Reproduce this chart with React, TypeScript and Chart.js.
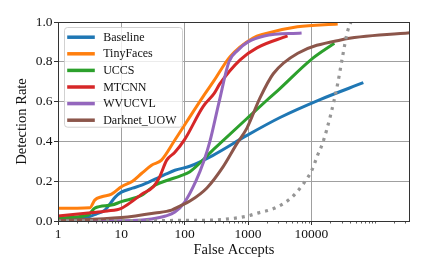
import React, { useEffect, useRef } from "react";
import { Chart, registerables } from "chart.js";

Chart.register(...registerables);

// ---------- data ----------
const seriesLabels = ["Baseline", "TinyFaces", "UCCS", "MTCNN", "WVUCVL", "Darknet_UOW"];
const seriesColors = ["#1f77b4", "#ff7f0e", "#2ca02c", "#d62728", "#9467bd", "#8c564b"];

const baselineX = [1, 2, 3, 4, 5.5, 8, 10, 15, 21, 34, 50, 70, 120, 280, 960, 3200, 13700, 66000];
const baselineY = [0.01, 0.015, 0.02, 0.035, 0.055, 0.12, 0.145, 0.165, 0.18, 0.21, 0.235, 0.255, 0.275, 0.33, 0.43, 0.52, 0.61, 0.695];

const tinyFacesX = [1, 3.2, 3.8, 4.9, 7, 10, 15, 21, 30, 43, 70, 108, 195, 290, 520, 1200, 1800, 6000, 26000];
const tinyFacesY = [0.064, 0.067, 0.105, 0.122, 0.135, 0.172, 0.2, 0.24, 0.28, 0.306, 0.407, 0.5, 0.625, 0.705, 0.826, 0.92, 0.94, 0.976, 0.99];

const uccsX = [1, 3, 3.8, 7, 10, 21, 34, 55, 84, 121, 280, 960, 2000, 3000, 9800, 23000];
const uccsY = [0.015, 0.03, 0.065, 0.08, 0.097, 0.13, 0.18, 0.206, 0.226, 0.248, 0.357, 0.515, 0.608, 0.658, 0.81, 0.893];

const mtcnnX = [1, 3, 6, 10, 15, 21, 32, 40, 52, 70, 100, 195, 290, 360, 750, 1380, 4200];
const mtcnnY = [0.025, 0.04, 0.05, 0.064, 0.1, 0.135, 0.172, 0.22, 0.306, 0.345, 0.41, 0.575, 0.64, 0.69, 0.81, 0.87, 0.93];

const wvucvlX = [1, 15, 30, 50, 70, 100, 150, 200, 250, 350, 500, 700, 1000, 1800, 7000];
const wvucvlY = [0, 0.002, 0.01, 0.025, 0.045, 0.095, 0.2, 0.3, 0.4, 0.6, 0.8, 0.86, 0.9, 0.93, 0.945];

const darknetX = [1, 10, 34, 62, 84, 121, 224, 405, 670, 960, 1550, 2500, 6100, 29000, 360000];
const darknetY = [0.002, 0.017, 0.04, 0.055, 0.075, 0.1, 0.166, 0.273, 0.39, 0.467, 0.62, 0.74, 0.843, 0.91, 0.946];

const referenceX = [1, 100, 290, 980, 1380, 2600, 4700, 7200, 10200, 12500, 15000, 20000, 26000, 31000, 37000, 42000];
const referenceY = [0, 0.003, 0.005, 0.025, 0.039, 0.064, 0.114, 0.18, 0.256, 0.33, 0.39, 0.53, 0.69, 0.826, 0.95, 1.0];

const xMajorTicks = [1, 10, 100, 1000, 10000];
const xMinorTicks = [
  2, 3, 4, 5, 6, 7, 8, 9,
  20, 30, 40, 50, 60, 70, 80, 90,
  200, 300, 400, 500, 600, 700, 800, 900,
  2000, 3000, 4000, 5000, 6000, 7000, 8000, 9000,
  20000, 30000, 40000, 50000, 60000, 70000, 80000, 90000, 100000,
  200000, 300000,
];
const yTicks = [0, 0.2, 0.4, 0.6, 0.8, 1.0];
const X_MIN = 1;
const X_MAX = 360000;

const seriesX = [baselineX, tinyFacesX, uccsX, mtcnnX, wvucvlX, darknetX];
const seriesY = [baselineY, tinyFacesY, uccsY, mtcnnY, wvucvlY, darknetY];

const SERIF = '"Liberation Serif", "DejaVu Serif", serif';

function pts(xs: number[], ys: number[]) {
  return xs.map((x, i) => ({ x, y: ys[i] }));
}

const isMajor = (v: number) => xMajorTicks.indexOf(v) >= 0;

const decorPlugin = {
  id: "decor",
  afterDraw(chart: any) {
    const { ctx, chartArea: a, scales } = chart;
    ctx.save();
    // minor x ticks
    ctx.strokeStyle = "#333";
    ctx.lineWidth = 0.8;
    for (const v of xMinorTicks) {
      const px = Math.round(scales.x.getPixelForValue(v)) + 0.5;
      if (px < a.left || px > a.right) continue;
      ctx.beginPath();
      ctx.moveTo(px, a.bottom);
      ctx.lineTo(px, a.bottom + 2.5);
      ctx.stroke();
    }
    // frame
    ctx.lineWidth = 1;
    ctx.strokeStyle = "#333";
    const l = Math.floor(a.left) + 0.5;
    const r = Math.floor(a.right) - 0.5;
    const t = Math.floor(a.top) + 0.5;
    const b = Math.floor(a.bottom) + 0.5;
    ctx.strokeRect(l, t, r - l, b - t);

    // legend
    const items = chart.data.datasets
      .filter((d: any) => d.label)
      .map((d: any) => ({ label: d.label, color: d.borderColor }));
    ctx.font = `12px ${SERIF}`;
    let maxW = 0;
    for (const it of items) maxW = Math.max(maxW, ctx.measureText(it.label).width);
    const bx = a.left + 6.5;
    const by = a.top + 5.5;
    const rowH = 16.6;
    const bw = 38.7 + maxW + 6;
    const bh = 9.7 + (items.length - 1) * rowH + 7;
    const rad = 3;
    ctx.beginPath();
    ctx.moveTo(bx + rad, by);
    ctx.lineTo(bx + bw - rad, by);
    ctx.arcTo(bx + bw, by, bx + bw, by + rad, rad);
    ctx.lineTo(bx + bw, by + bh - rad);
    ctx.arcTo(bx + bw, by + bh, bx + bw - rad, by + bh, rad);
    ctx.lineTo(bx + rad, by + bh);
    ctx.arcTo(bx, by + bh, bx, by + bh - rad, rad);
    ctx.lineTo(bx, by + rad);
    ctx.arcTo(bx, by, bx + rad, by, rad);
    ctx.closePath();
    ctx.fillStyle = "rgba(255,255,255,0.8)";
    ctx.fill();
    ctx.strokeStyle = "rgba(204,204,204,0.9)";
    ctx.lineWidth = 1;
    ctx.stroke();
    items.forEach((it: any, i: number) => {
      const cy = by + 9.7 + i * rowH;
      ctx.strokeStyle = it.color;
      ctx.lineWidth = 3.5;
      ctx.lineCap = "butt";
      ctx.beginPath();
      ctx.moveTo(bx + 2.7, cy);
      ctx.lineTo(bx + 30.3, cy);
      ctx.stroke();
      ctx.fillStyle = "#111";
      ctx.textAlign = "left";
      ctx.textBaseline = "middle";
      ctx.fillText(it.label, bx + 38.7, cy + 0.5);
    });
    ctx.restore();
  },
};

export default function App() {
  const ref = useRef<HTMLCanvasElement>(null);
  useEffect(() => {
    const canvas = ref.current;
    if (!canvas) return;
    const n = seriesLabels.length;
    const datasets: any[] = seriesLabels.map((label, i) => ({
      label,
      data: pts(seriesX[i], seriesY[i]),
      borderColor: seriesColors[i],
      backgroundColor: seriesColors[i],
      borderWidth: 3,
      pointRadius: 0,
      cubicInterpolationMode: "monotone",
      fill: false,
      order: n + 1 - i,
    }));
    datasets.push({
      label: "",
      data: pts(referenceX, referenceY),
      borderColor: "rgba(150,150,150,1)",
      backgroundColor: "rgba(150,150,150,1)",
      borderWidth: 3.2,
      borderDash: [3, 5],
      pointRadius: 0,
      cubicInterpolationMode: "monotone",
      fill: false,
      order: 0,
    });

    const chart = new Chart(canvas, {
      type: "line",
      data: { datasets },
      plugins: [decorPlugin],
      options: {
        animation: false,
        responsive: false,
        maintainAspectRatio: false,
        layout: { padding: { top: 22, right: 18, left: 0, bottom: 0 } },
        plugins: {
          legend: { display: false },
          tooltip: { enabled: false },
          title: { display: false },
        },
        scales: {
          x: {
            type: "logarithmic",
            min: X_MIN,
            max: X_MAX,
            afterBuildTicks: (scale: any) => {
              scale.ticks = xMajorTicks.map((v) => ({ value: v, major: true }));
            },
            afterFit: (scale: any) => {
              scale.height = 54;
            },
            ticks: {
              autoSkip: false,
              maxRotation: 0,
              minRotation: 0,
              padding: 1,
              color: "#111",
              font: { family: SERIF, size: 13.5 },
              callback: (v: any) => (isMajor(Number(v)) ? String(v) : ""),
            },
            grid: {
              color: "#a0a0a0",
              lineWidth: 1,
              tickLength: 4,
              tickColor: "#333",
              drawTicks: true,
            },
            border: { display: false },
            title: {
              display: true,
              text: "False Accepts",
              color: "#111",
              font: { family: SERIF, size: 14.5 },
              padding: { top: 0, bottom: 16.3 },
            },
          },
          y: {
            type: "linear",
            min: 0,
            max: 1,
            afterBuildTicks: (scale: any) => {
              scale.ticks = yTicks.map((v) => ({ value: v }));
            },
            afterFit: (scale: any) => {
              scale.width = 58;
            },
            ticks: {
              padding: 1.5,
              color: "#111",
              font: { family: SERIF, size: 13.5 },
              callback: (v: any) => Number(v).toFixed(1),
            },
            grid: {
              color: "#a0a0a0",
              lineWidth: 1,
              tickLength: 4,
              tickColor: "#333",
              drawTicks: true,
            },
            border: { display: false },
            title: {
              display: true,
              text: "Detection Rate",
              color: "#111",
              font: { family: SERIF, size: 14.5 },
              padding: { top: 13.8, bottom: 0 },
            },
          },
        },
      } as any,
    });
    return () => chart.destroy();
  }, []);

  return (
    <div style={{ position: "fixed", left: 0, top: 0, width: 428, height: 275, background: "#fff" }}>
      <canvas ref={ref} width={428} height={275} style={{ display: "block", width: 428, height: 275 }} />
    </div>
  );
}
